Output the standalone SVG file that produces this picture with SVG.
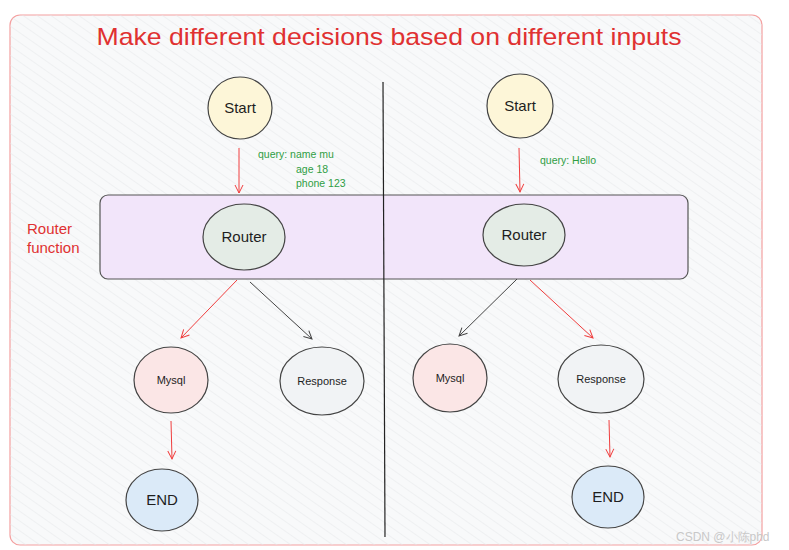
<svg xmlns="http://www.w3.org/2000/svg" width="789" height="550" viewBox="0 0 789 550">
<style>
text{font-family:"Liberation Sans","Noto Sans",sans-serif}
.node{stroke:#444;stroke-width:1.2}
.lbl{font-size:15px;fill:#1e1e1e;text-anchor:middle}
.small{font-size:11px;fill:#1e1e1e;text-anchor:middle}
.q{font-size:10.5px;fill:#2f9e44}
.red{stroke:#f03e3e;stroke-width:1;fill:none}
.blk{stroke:#444;stroke-width:1;fill:none}
</style>
<defs>
<pattern id="hatch" width="8" height="8" patternUnits="userSpaceOnUse" patternTransform="rotate(-55)">
<line x1="0" y1="0" x2="0" y2="8" stroke="#e6e8ea" stroke-width="1"/>
</pattern>
<marker id="ar" markerWidth="12" markerHeight="12" refX="10" refY="6" orient="auto" markerUnits="userSpaceOnUse">
<polyline points="2,2 10,6 2,10" fill="none" stroke="#f03e3e" stroke-width="1"/>
</marker>
<marker id="ab" markerWidth="12" markerHeight="12" refX="10" refY="6" orient="auto" markerUnits="userSpaceOnUse">
<polyline points="2,2 10,6 2,10" fill="none" stroke="#444" stroke-width="1"/>
</marker>
</defs>
<rect width="789" height="550" fill="#fff"/>
<g id="frame">
<rect x="10" y="15" width="752" height="530" rx="10" fill="#f8f9fa" stroke="#f4a0a0" stroke-width="1.2"/>
<rect x="10" y="15" width="752" height="530" rx="10" fill="url(#hatch)"/>
</g>
<text x="389" y="45" font-size="24" fill="#e03131" text-anchor="middle" textLength="585" lengthAdjust="spacingAndGlyphs">Make different decisions based on different inputs</text>
<g id="router-function">
<rect x="100" y="195" width="588" height="84" rx="8" fill="#f2e5fa" stroke="#555" stroke-width="1.2"/>
<text x="27" y="234" font-size="15" fill="#e03131">Router</text>
<text x="27" y="253" font-size="15" fill="#e03131">function</text>
</g>
<line x1="383" y1="82" x2="385" y2="537" stroke="#222" stroke-width="1.2"/>
<g id="start-left"><ellipse class="node" cx="240" cy="108" rx="32" ry="31" fill="#fdf6d8"/><text class="lbl" x="240" y="113">Start</text></g>
<g id="start-right"><ellipse class="node" cx="520" cy="106" rx="33" ry="32" fill="#fdf6d8"/><text class="lbl" x="520" y="111">Start</text></g>
<g id="router-left"><ellipse class="node" cx="244" cy="237" rx="41" ry="33" fill="#e4ece6"/><text class="lbl" x="244" y="242">Router</text></g>
<g id="router-right"><ellipse class="node" cx="524" cy="235" rx="41" ry="31" fill="#e4ece6"/><text class="lbl" x="524" y="240">Router</text></g>
<g id="mysql-left"><ellipse class="node" cx="171" cy="380" rx="37" ry="33" fill="#fbe6e6"/><text class="small" x="171" y="384">Mysql</text></g>
<g id="response-left"><ellipse class="node" cx="322" cy="381" rx="42" ry="34" fill="#f1f3f5"/><text class="small" x="322" y="385">Response</text></g>
<g id="mysql-right"><ellipse class="node" cx="450" cy="378" rx="37" ry="34" fill="#fbe6e6"/><text class="small" x="450" y="382">Mysql</text></g>
<g id="response-right"><ellipse class="node" cx="601" cy="379" rx="43" ry="34" fill="#f1f3f5"/><text class="small" x="601" y="383">Response</text></g>
<g id="end-left"><ellipse class="node" cx="162" cy="500" rx="36" ry="31" fill="#dbeaf8"/><text class="lbl" x="162" y="505">END</text></g>
<g id="end-right"><ellipse class="node" cx="608" cy="497" rx="36" ry="31" fill="#dbeaf8"/><text class="lbl" x="608" y="502">END</text></g>
<g id="connectors">
<line class="red" x1="239" y1="148" x2="239" y2="193" marker-end="url(#ar)"/>
<line class="red" x1="519" y1="148" x2="520" y2="192" marker-end="url(#ar)"/>
<line class="red" x1="237" y1="280" x2="181" y2="338" marker-end="url(#ar)"/>
<line class="blk" x1="250" y1="282" x2="312" y2="339" marker-end="url(#ab)"/>
<line class="blk" x1="517" y1="279" x2="459" y2="336" marker-end="url(#ab)"/>
<line class="red" x1="530" y1="280" x2="593" y2="338" marker-end="url(#ar)"/>
<line class="red" x1="171" y1="421" x2="172" y2="459" marker-end="url(#ar)"/>
<line class="red" x1="609" y1="420" x2="610" y2="457" marker-end="url(#ar)"/>
<text class="q" x="258" y="158">query: name mu</text>
<text class="q" x="296" y="173">age 18</text>
<text class="q" x="296" y="187">phone 123</text>
<text class="q" x="540" y="164">query: Hello</text>
</g>
<text x="676" y="541" font-size="12" fill="#c8c8c8" font-family="Liberation Sans,Noto Sans CJK SC,sans-serif">CSDN @小陈phd</text>
</svg>
